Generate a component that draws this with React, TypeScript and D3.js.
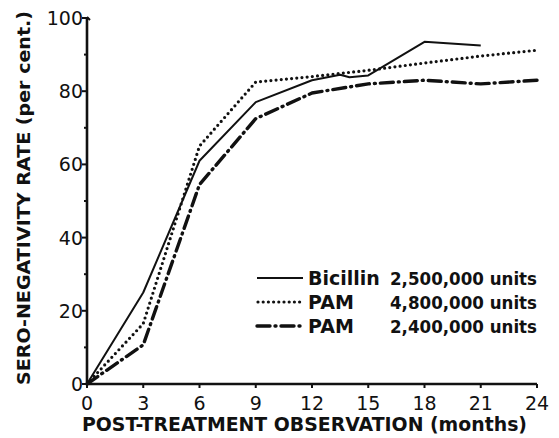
import React from "react";
import * as d3 from "d3";

// months of observation
const monthTicks = [0, 3, 6, 9, 12, 15, 18, 21, 24];
const rateTicks = [0, 20, 40, 60, 80, 100];
const minorRateTicks = [10, 30, 50, 70, 90];

// Bicillin 2,500,000 units
const bicillinMonths = [0, 3, 6, 9, 12, 13.5, 14, 15, 18, 21];
const bicillinRate = [0, 25, 61, 77, 83, 84.5, 83.8, 84.3, 93.5, 92.5];

// PAM 4,800,000 units
const pamHighMonths = [0, 3, 6, 9, 12, 15, 18, 21, 24];
const pamHighRate = [0, 16.5, 65, 82.5, 84, 85.7, 87.7, 89.6, 91.2];

// PAM 2,400,000 units
const pamLowMonths = [0, 3, 6, 9, 12, 15, 18, 21, 24];
const pamLowRate = [0, 10.7, 54.5, 72.5, 79.5, 82, 83, 82, 83];

const legendNames = ["Bicillin", "PAM", "PAM"];
const legendDoses = ["2,500,000 units", "4,800,000 units", "2,400,000 units"];

const W = 559;
const H = 438;
const font = "'DejaVu Sans', sans-serif";

type Pt = [number, number];

export default function App() {
  const x = d3.scaleLinear().domain([0, 24]).range([87, 537]);
  const y = d3.scaleLinear().domain([0, 100]).range([384, 18]);

  const line = d3
    .line<Pt>()
    .x((d) => x(d[0]))
    .y((d) => y(d[1]));

  const zip = (a: number[], b: number[]): Pt[] => a.map((m, i) => [m, b[i]]);

  const series = [
    { pts: zip(bicillinMonths, bicillinRate), dash: "none", w: 2, cap: "butt" },
    { pts: zip(pamHighMonths, pamHighRate), dash: "0 5.2", w: 3.2, cap: "round" },
    { pts: zip(pamLowMonths, pamLowRate), dash: "13 5 1 5", w: 3.4, cap: "round" },
  ];

  const legendY = [278, 302, 326];

  return (
    <div style={{ position: "absolute", left: 0, top: 0 }}>
      <svg width={W} height={H} style={{ display: "block", background: "#fff" }}>
        {/* axes */}
        <g stroke="#111" fill="none">
          <line x1={x(0)} x2={x(0)} y1={y(0) + 1} y2={y(100) - 1} strokeWidth={2.6} />
          <line x1={x(0)} x2={x(0) + 3} y1={y(100) - 1} y2={y(100) + 2} strokeWidth={2} />
          <line x1={x(0) - 1} x2={x(24)} y1={y(0)} y2={y(0)} strokeWidth={2.6} />
          {rateTicks.map((t) => (
            <line key={"yt" + t} x1={x(0) - 5} x2={x(0)} y1={y(t)} y2={y(t)} strokeWidth={2} />
          ))}
          {minorRateTicks.map((t) => (
            <line key={"ym" + t} x1={x(0) - 3} x2={x(0)} y1={y(t)} y2={y(t)} strokeWidth={2} />
          ))}
          {monthTicks.map((t) => (
            <line key={"xt" + t} x1={x(t)} x2={x(t)} y1={y(0)} y2={y(0) + 4} strokeWidth={2} />
          ))}
        </g>

        {/* tick labels */}
        <g fontFamily={font} fontSize={19} fill="#111">
          {rateTicks.map((t) => (
            <text key={"yl" + t} x={x(0) - 4} y={y(t) + 7} textAnchor="end">
              {t}
            </text>
          ))}
          {monthTicks.map((t) => (
            <text key={"xl" + t} x={x(t)} y={y(0) + 26} textAnchor="middle">
              {t}
            </text>
          ))}
        </g>

        {/* axis titles */}
        <text
          x={82}
          y={431}
          fontFamily={font}
          fontWeight="bold"
          fontSize={20}
          textLength={445}
          lengthAdjust="spacingAndGlyphs"
          fill="#111"
        >
          POST-TREATMENT OBSERVATION (months)
        </text>
        <text
          transform="translate(30,385) rotate(-90)"
          fontFamily={font}
          fontWeight="bold"
          fontSize={18}
          textLength={374}
          lengthAdjust="spacingAndGlyphs"
          fill="#111"
        >
          SERO-NEGATIVITY RATE (per cent.)
        </text>

        {/* data lines */}
        <g fill="none" stroke="#111" strokeLinejoin="round">
          {series.map((s, i) => (
            <path
              key={"s" + i}
              d={line(s.pts) || ""}
              strokeWidth={s.w}
              strokeDasharray={s.dash}
              strokeLinecap={s.cap as any}
            />
          ))}
        </g>

        {/* legend */}
        <g fill="none" stroke="#111">
          <line x1={257} x2={303} y1={legendY[0]} y2={legendY[0]} strokeWidth={2} />
          <line
            x1={258}
            x2={303}
            y1={legendY[1]}
            y2={legendY[1]}
            strokeWidth={3.2}
            strokeDasharray="0 5.2"
            strokeLinecap="round"
          />
          <line
            x1={257}
            x2={303}
            y1={legendY[2]}
            y2={legendY[2]}
            strokeWidth={3.4}
            strokeDasharray="13 5 1 5"
            strokeLinecap="round"
          />
        </g>
        <g fontFamily={font} fill="#111">
          {legendNames.map((n, i) => (
            <text key={"ln" + i} x={308} y={legendY[i] + 7} fontSize={19} fontWeight="bold">
              {n}
            </text>
          ))}
          {legendDoses.map((n, i) => (
            <text
              key={"ld" + i}
              x={390}
              y={legendY[i] + 7}
              fontSize={17}
              fontWeight="bold"
              textLength={147}
              lengthAdjust="spacingAndGlyphs"
            >
              {n}
            </text>
          ))}
        </g>
      </svg>
    </div>
  );
}
